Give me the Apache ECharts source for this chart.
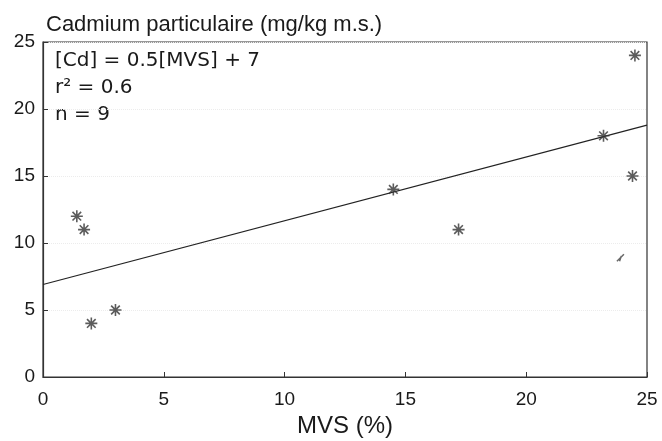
<!DOCTYPE html>
<html>
<head>
<meta charset="utf-8">
<script src="https://cdn.jsdelivr.net/npm/echarts@6/dist/echarts.min.js"></script>
<style>
  html, body { margin: 0; padding: 0; background: #fff; }
  #main { width: 662px; height: 441px; }
</style>
</head>
<body>
<div id="main"></div>
<script>
// valeurs
var mvs = [1.4, 1.7, 2.0, 3.0, 14.5, 17.2, 23.2, 24.5, 24.4];
var cd = [12, 11, 4, 5, 14, 11, 18, 24, 15];
var fitX = [0, 25];
var fitY = [6.9, 18.8];
// petite tache sur le scan original
var smudge = [[23.9, 8.9]];
var notes = ['[Cd] = 0.5[MVS] + 7', 'r² = 0.6', 'n = 9'];

var points = [];
for (var i = 0; i < mvs.length; i++) {
    points.push([mvs[i], cd[i]]);
}
var fit = [];
for (var j = 0; j < fitX.length; j++) {
    fit.push([fitX[j], fitY[j]]);
}

var star = 'path://M0,-5L0,5M-5,0L5,0M-3.6,-3.6L3.6,3.6M-3.6,3.6L3.6,-3.6';
var font = 'Liberation Sans';

var myChart = echarts.init(document.getElementById('main'));

var option = {
    backgroundColor: '#fff',
    animation: false,
    title: {
        text: 'Cadmium particulaire (mg/kg m.s.)',
        left: 41,
        top: 9,
        textStyle: { fontFamily: font, fontSize: 22, fontWeight: 'normal', color: '#1a1a1a' }
    },
    grid: {
        left: 43, right: 15, top: 42, bottom: 64,
        outerBoundsMode: 'none',
        containLabel: false,
        show: true,
        borderColor: '#333',
        borderWidth: 1.2
    },
    xAxis: {
        type: 'value',
        min: 0, max: 25, interval: 5,
        name: 'MVS (%)',
        nameLocation: 'middle',
        nameGap: 33,
        nameTextStyle: { fontFamily: font, fontSize: 24, color: '#1a1a1a' },
        axisLine: { show: true, lineStyle: { color: '#333', width: 1.2 } },
        axisTick: { show: true, inside: true, length: 5, lineStyle: { color: '#333' } },
        axisLabel: { fontFamily: font, fontSize: 19, color: '#1a1a1a', margin: 13 },
        splitLine: { show: false }
    },
    yAxis: {
        type: 'value',
        min: 0, max: 25, interval: 5,
        axisLine: { show: true, lineStyle: { color: '#333', width: 1.2 } },
        axisTick: { show: true, inside: true, length: 5, lineStyle: { color: '#333' } },
        axisLabel: { fontFamily: font, fontSize: 19, color: '#1a1a1a', margin: 8 },
        splitLine: { show: true, lineStyle: { color: '#ececec', type: 'dotted', width: 1 } }
    },
    graphic: notes.map(function (t, k) {
        return {
            type: 'text',
            left: 55,
            top: 51 + k * 27,
            style: { text: t, font: '20px "DejaVu Sans"', fill: '#1a1a1a' }
        };
    }),
    series: [{
        type: 'line',
        data: fit,
        symbol: 'none',
        lineStyle: { color: '#222', width: 1.2 },
        z: 2
    }, {
        type: 'scatter',
        data: points,
        symbol: star,
        symbolSize: 12,
        itemStyle: { color: 'none', borderColor: '#333', borderWidth: 1.6 },
        z: 3
    }, {
        type: 'scatter',
        data: smudge,
        symbol: 'path://M-4,2L4,-2M-1,2L1,-1',
        symbolSize: 7,
        itemStyle: { color: 'none', borderColor: '#444', borderWidth: 1.5 },
        z: 3
    }]
};

myChart.setOption(option);
</script>
</body>
</html>
